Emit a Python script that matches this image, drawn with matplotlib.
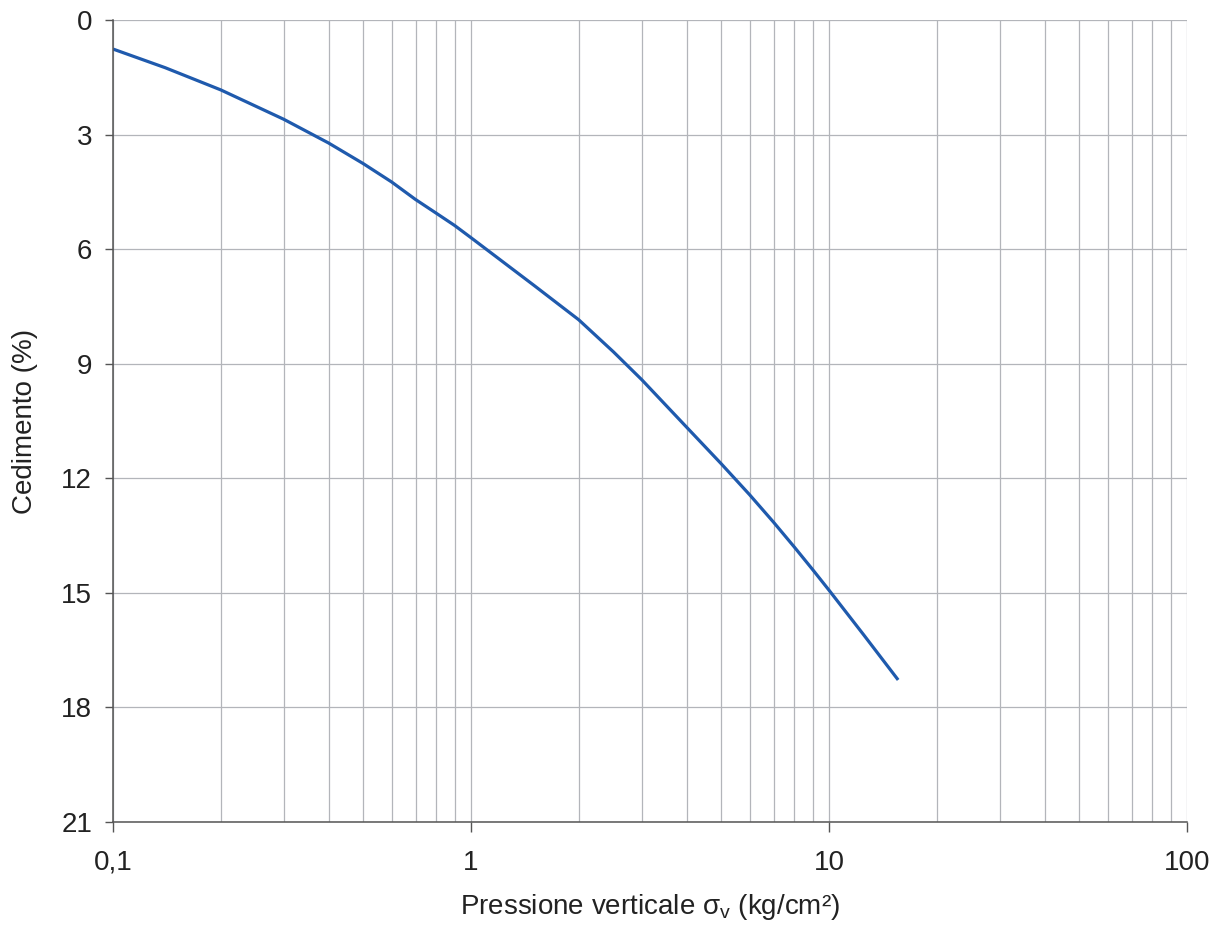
import numpy as np
import matplotlib.pyplot as plt
from matplotlib.ticker import FixedLocator, FuncFormatter, LogLocator, NullFormatter

# ------------------------------------------------------------
# Dati
# ------------------------------------------------------------
pressione = [0.1, 0.14, 0.2, 0.3, 0.4, 0.5, 0.6, 0.7, 0.8, 0.9, 1.0, 1.5,
             2.0, 2.5, 3.0, 4.0, 5.0, 6.0, 7.0, 8.0, 9.0, 10.0, 12.5, 15.6]
cedimento = [0.76, 1.25, 1.83, 2.6, 3.22, 3.76, 4.24, 4.70, 5.06, 5.38, 5.7, 6.95,
             7.85, 8.69, 9.42, 10.66, 11.62, 12.43, 13.15, 13.8, 14.39, 14.93, 16.1, 17.28]

y_ticks = [0, 3, 6, 9, 12, 15, 18, 21]
x_ticks = [0.1, 1, 10, 100]
x_labels = ["0,1", "1", "10", "100"]

plt.rcParams["font.family"] = ["Liberation Sans", "DejaVu Sans"]
plt.rcParams["font.size"] = 20

fig, ax = plt.subplots(figsize=(12.24, 9.26), dpi=100)
fig.subplots_adjust(left=0.0923, right=0.9698, top=0.9784, bottom=0.1123)

ax.plot(pressione, cedimento, color="#1f5aad", lw=2.3, solid_capstyle="butt",
        solid_joinstyle="round")

ax.set_xscale("log")
ax.set_xlim(0.1, 100)
ax.set_ylim(21, 0)

ax.xaxis.set_major_locator(FixedLocator(x_ticks))
ax.xaxis.set_major_formatter(FuncFormatter(lambda v, p: x_labels[x_ticks.index(v)] if v in x_ticks else ""))
ax.xaxis.set_minor_locator(LogLocator(base=10, subs=np.arange(2, 10)))
ax.xaxis.set_minor_formatter(NullFormatter())
ax.yaxis.set_major_locator(FixedLocator(y_ticks))

ax.grid(True, which="both", axis="x", color="#b3b5ba", lw=0.9)
ax.grid(True, which="major", axis="y", color="#b3b5ba", lw=0.9)
ax.set_axisbelow(True)

for side in ["top", "right"]:
    ax.spines[side].set_visible(False)
for side in ["left", "bottom"]:
    ax.spines[side].set_color("#555555")
    ax.spines[side].set_linewidth(1.1)

ax.tick_params(axis="x", which="major", direction="out", length=7, width=1, color="#555555", pad=13)
ax.tick_params(axis="x", which="minor", length=0)
ax.tick_params(axis="y", direction="out", length=6, width=1, color="#555555", pad=9)

ax.set_xlabel("Pressione verticale σ$_\\mathregular{v}$ (kg/cm²)", labelpad=12, color="#222222")
ax.set_ylabel("Cedimento (%)", labelpad=17, color="#222222")
for lab in ax.get_xticklabels() + ax.get_yticklabels():
    lab.set_color("#222222")

fig.savefig("out.png", dpi=100)
